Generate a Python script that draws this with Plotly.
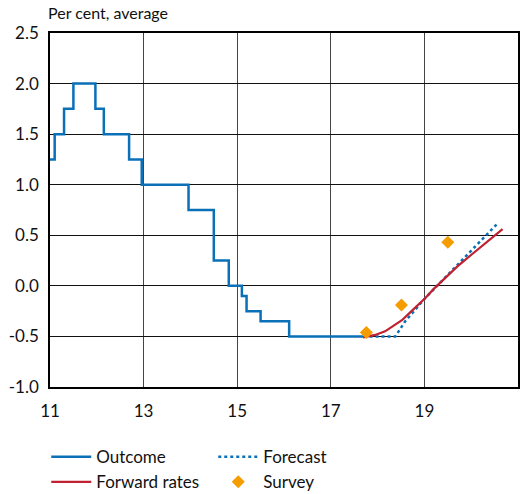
import plotly.graph_objects as go

# Outcome (step series): change dates (fractional year, 11 = 2011) and levels
outcome_x = [11.0, 11.1, 11.3, 11.5, 11.97, 12.15, 12.69, 12.96, 13.96, 14.5, 14.82, 15.1, 15.2, 15.5, 16.11, 17.7]
outcome_y = [1.25, 1.5, 1.75, 2.0, 1.75, 1.5, 1.25, 1.0, 0.75, 0.25, 0.0, -0.1, -0.25, -0.35, -0.5, -0.5]

# Forecast
forecast_x = [17.7, 18.0, 18.38, 18.59, 18.77, 19.0, 19.25, 19.5, 19.75, 20.0, 20.25, 20.57]
forecast_y = [-0.5, -0.5, -0.5, -0.35, -0.25, -0.13, -0.01, 0.11, 0.23, 0.35, 0.47, 0.62]

# Forward rates
forward_x = [17.69, 17.8, 17.95, 18.16, 18.35, 18.52, 18.68, 18.8, 19.02, 19.2, 19.44, 19.7, 20.01, 20.3, 20.67]
forward_y = [-0.51, -0.5, -0.485, -0.45, -0.39, -0.34, -0.27, -0.22, -0.12, -0.03, 0.08, 0.19, 0.31, 0.42, 0.56]

# Survey
survey_x = [17.76, 18.51, 19.5]
survey_y = [-0.46, -0.19, 0.43]

x_ticks = [11, 13, 15, 17, 19]
y_ticks = [-1.0, -0.5, 0.0, 0.5, 1.0, 1.5, 2.0, 2.5]

BLUE = "#0a70b8"
RED = "#c0202f"
ORANGE = "#f59c00"
FONT = "Lato"

fig = go.Figure()
fig.add_trace(go.Scatter(x=outcome_x, y=outcome_y, mode="lines", name="Outcome",
                         line=dict(color=BLUE, width=2.5, shape="hv"), legend="legend"))
fig.add_trace(go.Scatter(x=forecast_x, y=forecast_y, mode="lines", name="Forecast",
                         line=dict(color=BLUE, width=2.5, dash="dot"), legend="legend"))
fig.add_trace(go.Scatter(x=forward_x, y=forward_y, mode="lines", name="Forward rates",
                         line=dict(color=RED, width=2.2), legend="legend2"))
fig.add_trace(go.Scatter(x=survey_x, y=survey_y, mode="markers", name="Survey",
                         marker=dict(color=ORANGE, symbol="diamond", size=10), legend="legend2"))

leg_common = dict(orientation="h", xanchor="left", yanchor="middle",
                  entrywidth=112, entrywidthmode="pixels",
                  font=dict(family=FONT, size=17), tracegroupgap=0,
                  itemwidth=40, bgcolor="rgba(0,0,0,0)")

fig.update_layout(
    width=520, height=494,
    margin=dict(l=50, r=2, t=33, b=107, autoexpand=False),
    paper_bgcolor="white", plot_bgcolor="white",
    font=dict(family=FONT, size=16, color="#111"),
    showlegend=True,
    legend=dict(x=-0.008, y=-0.198, **leg_common),
    legend2=dict(x=-0.008, y=-0.269, **leg_common),
    title=dict(text="Per cent, average", xref="container", yref="container",
               x=48 / 520, xanchor="left", y=1 - 13 / 494, yanchor="middle",
               font=dict(family=FONT, size=16, color="#111")),
)
fig.update_xaxes(range=[11, 21], tickvals=x_ticks, ticktext=[str(v) for v in x_ticks],
                 showgrid=True, gridcolor="#444", gridwidth=1, automargin=False,
                 showline=True, linecolor="black", linewidth=1.5, mirror=True,
                 zeroline=False, ticks="", ticklabelstandoff=8,
                 tickfont=dict(family=FONT, size=17))
fig.update_yaxes(range=[-1.0, 2.5], tickvals=y_ticks, ticktext=[f"{v:.1f}" for v in y_ticks],
                 showgrid=True, gridcolor="#111", gridwidth=1, automargin=False,
                 showline=True, linecolor="black", linewidth=1.5, mirror=True,
                 zeroline=False, ticks="", ticklabelstandoff=6,
                 tickfont=dict(family=FONT, size=17))

fig.write_html("out.html", config={"displayModeBar": False},
               post_script="document.body.style.margin='0';")
